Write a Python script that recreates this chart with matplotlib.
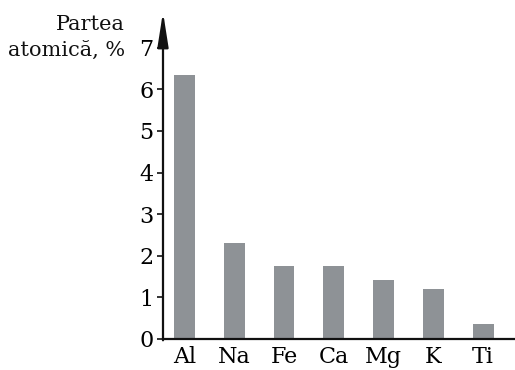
import matplotlib.pyplot as plt

# atomic share of elements (%)
elements = ['Al', 'Na', 'Fe', 'Ca', 'Mg', 'K', 'Ti']
shares = [6.35, 2.31, 1.75, 1.75, 1.43, 1.2, 0.36]
yticks = [0, 1, 2, 3, 4, 5, 6, 7]

plt.rcParams['font.family'] = ['DejaVu Serif']

fig = plt.figure(figsize=(5.15, 3.7), dpi=100)
ax = fig.add_axes([0.3165, 0.0838, 0.6835, 0.8838])

x = range(len(elements))
ax.bar(x, shares, width=0.42, color='#8e9296')

ax.set_xlim(-0.43, 6.64)
ax.set_ylim(0, 7.86)

for side in ['top', 'right', 'left']:
    ax.spines[side].set_visible(False)
ax.spines['bottom'].set_linewidth(1.6)
ax.spines['bottom'].set_color('#111111')

# y axis drawn as an arrow
ax.annotate('', xy=(0, 1), xytext=(0, -0.004), xycoords='axes fraction',
            arrowprops=dict(arrowstyle='-|>,head_length=1.4,head_width=0.22',
                            mutation_scale=15, lw=1.6, color='#111111',
                            shrinkA=0, shrinkB=0))

ax.set_yticks(yticks)
ax.set_yticklabels([str(t) for t in yticks])
ax.tick_params(axis='y', length=4, width=1.2, pad=3, labelsize=16, color='#111111')
ax.tick_params(axis='x', length=0, pad=5, labelsize=16)
ax.set_xticks(list(x))
ax.set_xticklabels(elements)

fig.text(0.243, 0.9, 'Partea\natomică, %', ha='right', va='center', ma='right',
         fontsize=15, linespacing=1.45, color='#111111')

fig.savefig('out.png', dpi=100)
